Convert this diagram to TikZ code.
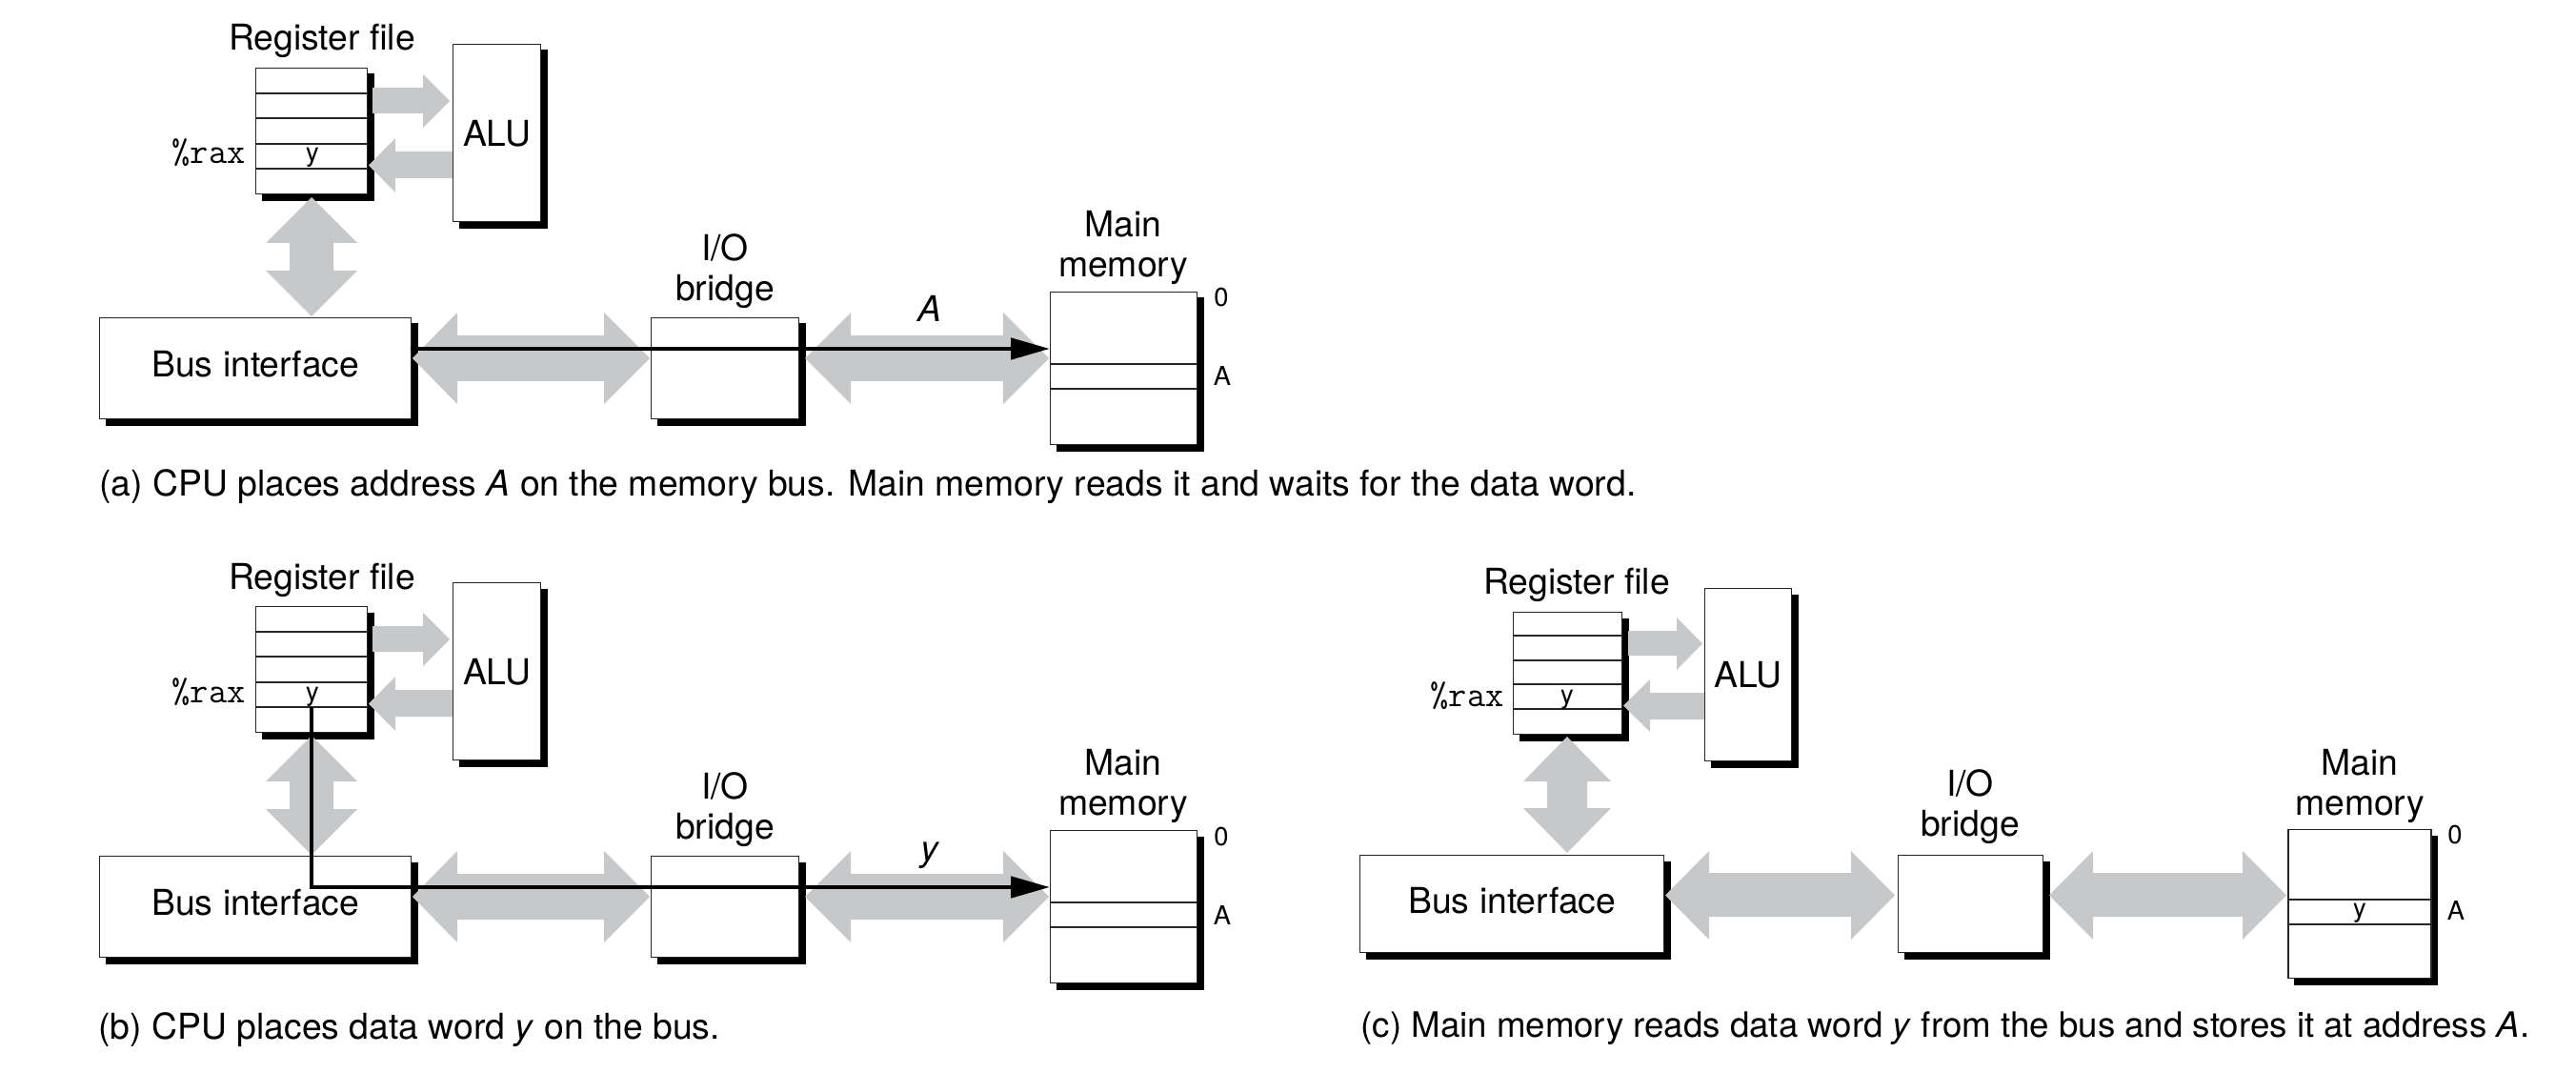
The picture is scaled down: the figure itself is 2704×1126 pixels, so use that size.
\documentclass[tikz,border=0pt]{standalone}
\usepackage{fontspec}
\setmainfont{TeX Gyre Heros}
\usetikzlibrary{arrows.meta,backgrounds}
\definecolor{busgray}{RGB}{199,200,202}
\tikzset{every picture/.style={line width=0.75pt}}
\tikzset{
  box/.style={draw=black!85, line width=1.1pt, fill=white, inner sep=0pt, anchor=north west, font=\fontsize{28}{31.5}\selectfont},
  cell/.style={draw=black!85, line width=1.1pt},
  boxshade/.style={fill=black},
  bus/.style={fill=busgray},
  lbl/.style={inner sep=0pt, align=center, font=\fontsize{28}{31.5}\selectfont},
  tag/.style={inner sep=0pt, anchor=base, font=\fontsize{20.5}{22}\selectfont},
  regname/.style={inner sep=0pt, anchor=base east, font=\ttfamily\fontsize{28}{30}\selectfont},
  captext/.style={inner sep=0pt, anchor=base west, font=\fontsize{28}{30}\selectfont},
  wire/.style={line width=3.5pt, line join=miter, -{Triangle[length=30.75pt,width=16.5pt]}}
}

\begin{document}
\begin{tikzpicture}[x=0.75pt,y=0.75pt,yscale=-1,xscale=1]
\useasboundingbox (0,0) rectangle (2704,1126);

%Panel (a)
\node[box, minimum width=87.75pt, minimum height=99pt] (rfA) at (268,71) {};
\node[box, minimum width=69pt, minimum height=139.5pt] (aluA) at (475,46) {ALU};
\node[box, minimum width=245.25pt, minimum height=79.5pt, text depth=7pt] (biA) at (104,333) {Bus interface};
\node[box, minimum width=116.25pt, minimum height=79.5pt] (brA) at (683,333) {};
\node[box, minimum width=115.5pt, minimum height=120pt] (mmA) at (1102,306) {};
%Register rows
\draw[cell] (268,98) -- (385,98);
\draw[cell] (268,124) -- (385,124);
\draw[cell] (268,151) -- (385,151);
\draw[cell] (268,177) -- (385,177);
%Memory rows
\draw[cell] (1102,382) -- (1256,382);
\draw[cell] (1102,408) -- (1256,408);
% Text Node
\node[lbl, anchor=base] (rfAt) at (338,53) {Register file};
\node[regname] (raxA) at (258,172) {\%rax};
\node[tag] (yA) at (328,170) {y};
\node[lbl, anchor=south] (brAt) at (761,324) {I/O\\bridge};
\node[lbl, anchor=south] (mmAt) at (1179,299) {Main\\memory};
\node[lbl, anchor=base] (adrA) at (976,338) {\itshape A};
\node[tag] (zeroA) at (1282,322) {0};
\node[tag] (addrA) at (1283,405) {A};
\node[captext] (capA) at (104,520) {(a) CPU places address \textit{A} on the memory bus. Main memory reads it and waits for the data word.};

%Panel (b)
\node[box, minimum width=87.75pt, minimum height=99pt] (rfB) at (268,636) {};
\node[box, minimum width=69pt, minimum height=139.5pt] (aluB) at (475,611) {ALU};
\node[box, minimum width=245.25pt, minimum height=79.5pt, text depth=7pt] (biB) at (104,898) {Bus interface};
\node[box, minimum width=116.25pt, minimum height=79.5pt] (brB) at (683,898) {};
\node[box, minimum width=115.5pt, minimum height=120pt] (mmB) at (1102,871) {};
%Register rows
\draw[cell] (268,663) -- (385,663);
\draw[cell] (268,689) -- (385,689);
\draw[cell] (268,716) -- (385,716);
\draw[cell] (268,742) -- (385,742);
%Memory rows
\draw[cell] (1102,947) -- (1256,947);
\draw[cell] (1102,973) -- (1256,973);
% Text Node
\node[lbl, anchor=base] (rfBt) at (338,618) {Register file};
\node[regname] (raxB) at (258,737) {\%rax};
\node[tag] (yB) at (328,735) {y};
\node[lbl, anchor=south] (brBt) at (761,889) {I/O\\bridge};
\node[lbl, anchor=south] (mmBt) at (1179,864) {Main\\memory};
\node[lbl, anchor=base] (datB) at (976,903) {\itshape y};
\node[tag] (zeroB) at (1282,887) {0};
\node[tag] (addrB) at (1283,970) {A};
\node[captext] (capB) at (103,1090) {(b) CPU places data word \textit{y} on the bus.};

%Panel (c)
\node[box, minimum width=85.5pt, minimum height=96pt] (rfC) at (1588,642) {};
\node[box, minimum width=68.25pt, minimum height=135.75pt] (aluC) at (1789,617) {ALU};
\node[box, minimum width=239.25pt, minimum height=76.5pt, text depth=6pt] (biC) at (1427,897) {Bus interface};
\node[box, minimum width=114pt, minimum height=76.5pt] (brC) at (1992,897) {};
\node[box, minimum width=112.5pt, minimum height=117pt] (mmC) at (2401,870) {};
%Register rows
\draw[cell] (1588,667) -- (1702,667);
\draw[cell] (1588,693) -- (1702,693);
\draw[cell] (1588,718) -- (1702,718);
\draw[cell] (1588,744) -- (1702,744);
%Memory rows
\draw[cell] (2401,944) -- (2551,944);
\draw[cell] (2401,970) -- (2551,970);
% Text Node
\node[lbl, anchor=base] (rfCt) at (1655,623) {Register file};
\node[regname] (raxC) at (1579,741) {\%rax};
\node[tag] (yC) at (1645,738) {y};
\node[lbl, anchor=south] (brCt) at (2068,886) {I/O\\bridge};
\node[lbl, anchor=south] (mmCt) at (2477,864) {Main\\memory};
\node[tag] (yC2) at (2477,962) {y};
\node[tag] (zeroC) at (2577,885) {0};
\node[tag] (addrC) at (2578,965) {A};
\node[captext, font=\fontsize{27.5}{30}\selectfont] (capC) at (1428,1088) {(c) Main memory reads data word \textit{y} from the bus and stores it at address \textit{A}.};

\begin{scope}[on background layer]
%Box shadows
\foreach \n in {rfA,aluA,biA,brA,mmA,rfB,aluB,biB,brB,mmB,rfC,aluC,biC,brC,mmC}
  \fill[boxshade] ([shift={(6.5,6.5)}]\n.south west) rectangle ([shift={(6.5,6.5)}]\n.north east);

%Shape: Arrows (a)
\fill[bus] (391,92) -- (444,92) -- (444,78) -- (472,106) -- (444,134) -- (444,119) -- (391,119) -- cycle;
\fill[bus] (476,159) -- (415,159) -- (415,145) -- (387,173.5) -- (415,202) -- (415,187) -- (476,187) -- cycle;
\fill[bus] (327,207) -- (375,255) -- (350,255) -- (350,284) -- (375,284) -- (327,332) -- (279,284) -- (304,284) -- (304,255) -- (279,255) -- cycle;
\fill[bus] (433,376) -- (480,328) -- (480,352) -- (634,352) -- (634,328) -- (682,376) -- (634,424) -- (634,400) -- (480,400) -- (480,424) -- cycle;
\fill[bus] (845,376) -- (893,328) -- (893,352) -- (1053,352) -- (1053,328) -- (1101,376) -- (1053,424) -- (1053,400) -- (893,400) -- (893,424) -- cycle;

%Shape: Arrows (b)
\fill[bus] (391,657) -- (444,657) -- (444,643) -- (472,671) -- (444,699) -- (444,684) -- (391,684) -- cycle;
\fill[bus] (476,724) -- (415,724) -- (415,710) -- (387,738.5) -- (415,767) -- (415,752) -- (476,752) -- cycle;
\fill[bus] (327,772) -- (375,820) -- (350,820) -- (350,849) -- (375,849) -- (327,897) -- (279,849) -- (304,849) -- (304,820) -- (279,820) -- cycle;
\fill[bus] (433,941) -- (480,893) -- (480,917) -- (634,917) -- (634,893) -- (682,941) -- (634,989) -- (634,965) -- (480,965) -- (480,989) -- cycle;
\fill[bus] (845,941) -- (893,893) -- (893,917) -- (1053,917) -- (1053,893) -- (1101,941) -- (1053,989) -- (1053,965) -- (893,965) -- (893,989) -- cycle;

%Shape: Arrows (c)
\fill[bus] (1709,662) -- (1760,662) -- (1760,648) -- (1787,675.5) -- (1760,703) -- (1760,688) -- (1709,688) -- cycle;
\fill[bus] (1790,727) -- (1732,727) -- (1732,713) -- (1704,740.5) -- (1732,768) -- (1732,755) -- (1790,755) -- cycle;
\fill[bus] (1645,773) -- (1691,820) -- (1666,820) -- (1666,848) -- (1691,848) -- (1645,895) -- (1599,848) -- (1624,848) -- (1624,820) -- (1599,820) -- cycle;
\fill[bus] (1748,939.5) -- (1794,893) -- (1794,916) -- (1943,916) -- (1943,893) -- (1989,939.5) -- (1943,986) -- (1943,962) -- (1794,962) -- (1794,986) -- cycle;
\fill[bus] (2151,939.5) -- (2197,893) -- (2197,916) -- (2354,916) -- (2354,893) -- (2400,939.5) -- (2354,986) -- (2354,962) -- (2197,962) -- (2197,986) -- cycle;
\end{scope}

%Data lines
\coordinate (wA) at (431,366);
\draw[wire] (wA) -- (wA -| mmA.west);
\coordinate (wB) at (327,742);
\draw[wire] (wB) |- (mmB.west |- 0,931);

\end{tikzpicture}
\end{document}
